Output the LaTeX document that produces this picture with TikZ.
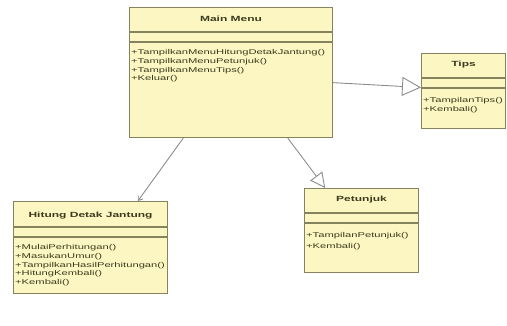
\documentclass[tikz,border=0pt]{standalone}
\usepackage{fontspec}
\setmainfont{Liberation Sans}
\usetikzlibrary{arrows.meta,calc}
\definecolor{boxfill}{HTML}{FCF7C2}
\definecolor{boxline}{HTML}{85835E}
\definecolor{txt}{HTML}{3C3A1E}
\definecolor{conn}{HTML}{8C8C8C}
\newcommand\hs[1]{\scalebox{1.6}[1]{#1}}
\tikzset{
  classbox/.style={draw=boxline, fill=boxfill, line width=1.1pt, inner sep=0pt, anchor=north west},
  sepline/.style={draw=boxline, line width=1.1pt},
  titletext/.style={inner sep=0pt, text=txt, font=\fontsize{7.5}{8}\selectfont\bfseries},
  methtext/.style={inner sep=0pt, text=txt, anchor=west, font=\fontsize{7}{8}\selectfont},
  conline/.style={draw=conn, line width=0.9pt},
  genarrow/.style={conline, -{Triangle[open, length=#1, width=#1]}},
  assocarrow/.style={conline, -{Straight Barb[length=4pt, width=6pt]}}
}
\begin{document}
\begin{tikzpicture}[x=1pt,y=-1pt]
\useasboundingbox (0,0) rectangle (507,325);
% Main Menu
\node[classbox, minimum width=203pt, minimum height=130pt] (mm) at (129,7) {};
\draw[sepline] ($(mm.north west)+(0,25)$) -- ($(mm.north east)+(0,25)$);
\draw[sepline] ($(mm.north west)+(0,35)$) -- ($(mm.north east)+(0,35)$);
\node[titletext] (mmt) at ($(mm.north)+(0,12)$) {\hs{Main Menu}};
\node[methtext] (mm1) at ($(mm.north west)+(2,46)$) {\hs{+TampilkanMenuHitungDetakJantung()}};
\node[methtext] (mm2) at ($(mm.north west)+(2,55)$) {\hs{+TampilkanMenuPetunjuk()}};
\node[methtext] (mm3) at ($(mm.north west)+(2,63.5)$) {\hs{+TampilkanMenuTips()}};
\node[methtext] (mm4) at ($(mm.north west)+(2,72)$) {\hs{+Keluar()}};
% Tips
\node[classbox, minimum width=84pt, minimum height=75pt] (tp) at (421,53) {};
\draw[sepline] ($(tp.north west)+(0,25)$) -- ($(tp.north east)+(0,25)$);
\draw[sepline] ($(tp.north west)+(0,35)$) -- ($(tp.north east)+(0,35)$);
\node[titletext] (tpt) at ($(tp.north)+(0,12)$) {\hs{Tips}};
\node[methtext] (tp1) at ($(tp.north west)+(2,47.5)$) {\hs{+TampilanTips()}};
\node[methtext] (tp2) at ($(tp.north west)+(2,56.5)$) {\hs{+Kembali()}};
% Hitung Detak Jantung
\node[classbox, minimum width=154pt, minimum height=92pt] (hd) at (13,201) {};
\draw[sepline] ($(hd.north west)+(0,26)$) -- ($(hd.north east)+(0,26)$);
\draw[sepline] ($(hd.north west)+(0,36)$) -- ($(hd.north east)+(0,36)$);
\node[titletext] (hdt) at ($(hd.north)+(0,15)$) {\hs{Hitung Detak Jantung}};
\node[methtext] (hd1) at ($(hd.north west)+(2,47)$) {\hs{+MulaiPerhitungan()}};
\node[methtext] (hd2) at ($(hd.north west)+(2,56)$) {\hs{+MasukanUmur()}};
\node[methtext] (hd3) at ($(hd.north west)+(2,64.5)$) {\hs{+TampilkanHasilPerhitungan()}};
\node[methtext] (hd4) at ($(hd.north west)+(2,73)$) {\hs{+HitungKembali()}};
\node[methtext] (hd5) at ($(hd.north west)+(2,82)$) {\hs{+Kembali()}};
% Petunjuk
\node[classbox, minimum width=114pt, minimum height=84pt] (pj) at (304,188) {};
\draw[sepline] ($(pj.north west)+(0,25)$) -- ($(pj.north east)+(0,25)$);
\draw[sepline] ($(pj.north west)+(0,35)$) -- ($(pj.north east)+(0,35)$);
\node[titletext] (pjt) at ($(pj.north)+(0,12)$) {\hs{Petunjuk}};
\node[methtext] (pj1) at ($(pj.north west)+(2,48)$) {\hs{+TampilanPetunjuk()}};
\node[methtext] (pj2) at ($(pj.north west)+(2,59)$) {\hs{+Kembali()}};
% connectors
\draw[assocarrow] ($(mm.south west)!0.266!(mm.south east)$) -- ($(hd.north west)!0.805!(hd.north east)$);
\draw[genarrow=15pt] ($(mm.south west)!0.778!(mm.south east)$) -- ($(pj.north west)!0.184!(pj.north east)$);
\draw[genarrow=19pt] ($(mm.north east)!0.577!(mm.south east)$) -- ($(tp.north west)!0.453!(tp.south west)$);
\end{tikzpicture}
\end{document}
